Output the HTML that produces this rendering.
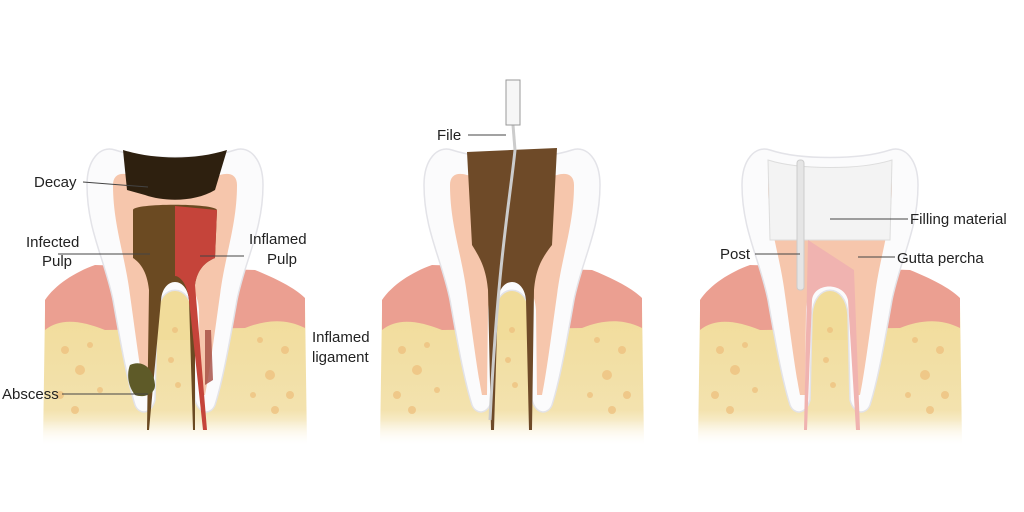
<!DOCTYPE html>
<html><head><meta charset="utf-8"><style>
html,body{margin:0;padding:0;background:#fff;}
svg{display:block;}
text{font-family:"Liberation Sans",sans-serif;font-size:15px;fill:#222;}
</style></head><body>
<svg width="1024" height="512" viewBox="0 0 1024 512" xmlns="http://www.w3.org/2000/svg">
<defs>
<linearGradient id="bone" x1="0" y1="0" x2="0" y2="1">
<stop offset="0" stop-color="#f1dc9a"/><stop offset="0.75" stop-color="#f3e2ae"/><stop offset="1" stop-color="#fff"/>
</linearGradient>
<linearGradient id="fade" x1="0" y1="0" x2="0" y2="1">
<stop offset="0" stop-color="#fff" stop-opacity="0"/><stop offset="1" stop-color="#fff" stop-opacity="1"/>
</linearGradient>
<g id="base">
<path d="M-130 310 L130 305 L132 445 L-132 445 Z" fill="url(#bone)"/>
<path d="M-130 300 C-120 285 -100 272 -80 265 L80 270 C100 278 120 288 130 298 L130 328 C110 318 90 320 70 328 L-70 330 C-95 320 -115 318 -130 330 Z" fill="#eb9f91"/>
<rect x="-30" y="280" width="60" height="60" fill="#f1dc9a"/>
<g fill="#eec07e" opacity="0.75">
<circle cx="-110" cy="350" r="4"/><circle cx="-95" cy="370" r="5"/><circle cx="-115" cy="395" r="4"/><circle cx="-85" cy="345" r="3"/><circle cx="-100" cy="410" r="4"/><circle cx="-75" cy="390" r="3"/>
<circle cx="110" cy="350" r="4"/><circle cx="95" cy="375" r="5"/><circle cx="115" cy="395" r="4"/><circle cx="85" cy="340" r="3"/><circle cx="100" cy="410" r="4"/><circle cx="78" cy="395" r="3"/>
</g>
<path d="M-88 185 C-88 160 -75 145 -60 150 C-30 160 30 160 60 150 C75 145 88 160 88 185 C88 230 70 260 62 300 C55 340 48 380 40 405 C36 415 24 415 20 400 L18 315 C16 282 -16 282 -18 315 L-20 400 C-24 415 -36 415 -40 405 C-48 380 -55 340 -62 300 C-70 260 -88 230 -88 185 Z" fill="#fbfbfc" stroke="#e3e3e8" stroke-width="1.5"/>
<path d="M-62 185 C-62 175 -55 172 -45 175 C-20 182 20 182 45 175 C55 172 62 175 62 185 C62 225 50 255 45 295 C40 330 35 370 30 395 L25 395 L24 310 C22 270 -22 270 -24 310 L-25 395 L-30 395 C-35 370 -40 330 -45 295 C-50 255 -62 225 -62 185 Z" fill="#f6c6ac"/>
<g fill="#eec07e" opacity="0.75"><circle cx="0" cy="330" r="3"/><circle cx="-4" cy="360" r="3"/><circle cx="3" cy="385" r="3"/></g>
<rect x="-132" y="420" width="264" height="30" fill="url(#fade)"/>
</g>
</defs>

<g transform="translate(175,0)">
<use href="#base"/>
<path d="M-42 210 C-42 203 40 203 42 210 L40 258 C30 262 22 270 20 285 L20 430 L18 430 L14 300 C12 276 -12 276 -14 300 L-26 430 L-28 430 L-26 290 C-28 270 -36 262 -42 258 Z" fill="#6b4a22"/>
<path d="M0 206 L42 210 L40 258 C30 262 22 270 20 285 L32 430 L28 430 L14 300 C12 282 4 276 0 276 Z" fill="#c5443a"/>
<path d="M-52 150 C-20 160 20 160 52 150 L40 190 C20 202 -10 202 -30 195 L-48 190 Z" fill="#2e200f"/>
<path d="M-45 365 C-35 360 -22 365 -20 385 C-20 395 -32 398 -40 395 C-48 385 -48 372 -45 365 Z" fill="#5e5a28"/>
<path d="M30 330 L36 330 L38 380 L30 385 Z" fill="#a44a40" opacity="0.8"/>
</g>
<g transform="translate(512,0)">
<use href="#base"/>
<path d="M-45 152 L45 148 L40 245 C30 258 24 268 22 290 L20 430 L17 430 L14 300 C12 276 -12 276 -14 300 L-18 430 L-21 430 L-24 290 C-26 268 -32 258 -40 245 Z" fill="#6e4a28"/>
<path d="M1 125 L3 150 C-2 200 -14 260 -22 420" fill="none" stroke="#ccc" stroke-width="3"/>
<rect x="-6" y="80" width="14" height="45" fill="#f6f6f6" stroke="#999"/>
</g>
<g transform="translate(830,0)">
<use href="#base"/>
<path d="M-62 160 C-30 170 30 170 62 160 L60 240 L-60 240 Z" fill="#f3f3f3" stroke="#ddd"/>
<path d="M-22 240 L-26 430 L-23 430 L-18 300 C-16 282 14 282 18 300 L26 430 L30 430 L24 270 Z" fill="#f0b3b0"/>
<rect x="-33" y="160" width="7" height="130" rx="3" fill="#e5e5e5" stroke="#ccc"/>
</g>

<g stroke="#444" stroke-width="1" fill="none">
<line x1="83" y1="182" x2="148" y2="187"/>
<line x1="58" y1="254" x2="150" y2="254"/>
<line x1="200" y1="256" x2="244" y2="256"/>
<line x1="62" y1="394" x2="148" y2="394"/>
<line x1="468" y1="135" x2="506" y2="135"/>
<line x1="830" y1="219" x2="908" y2="219"/>
<line x1="755" y1="254" x2="800" y2="254"/>
<line x1="858" y1="257" x2="895" y2="257"/>
</g>
<text x="34" y="187">Decay</text>
<text x="26" y="247">Infected</text>
<text x="42" y="266">Pulp</text>
<text x="249" y="244">Inflamed</text>
<text x="267" y="264">Pulp</text>
<text x="312" y="342">Inflamed</text>
<text x="312" y="362">ligament</text>
<text x="2" y="399">Abscess</text>
<text x="437" y="140">File</text>
<text x="910" y="224">Filling material</text>
<text x="720" y="259">Post</text>
<text x="897" y="263">Gutta percha</text>
</svg>
</body></html>
